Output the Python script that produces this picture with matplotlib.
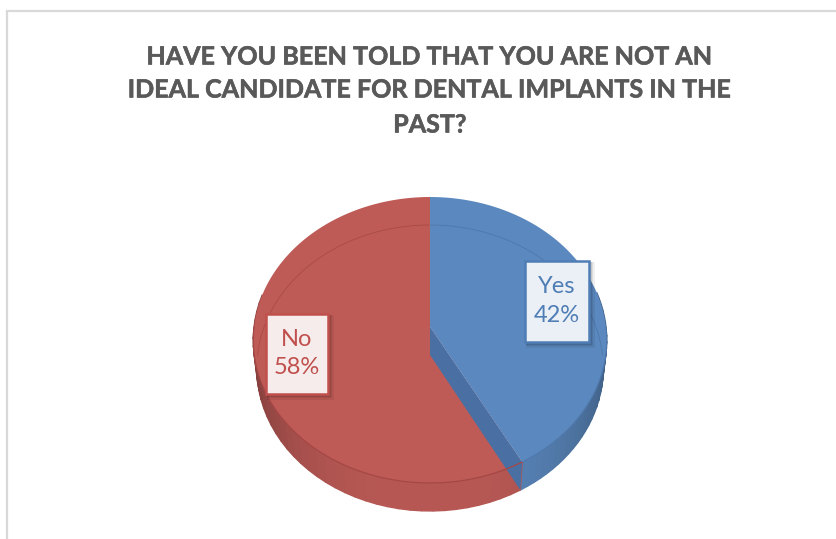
import numpy as np
import matplotlib
matplotlib.use('Agg')
import matplotlib.pyplot as plt
import matplotlib.patheffects as pe
from matplotlib.patches import Rectangle

############### Data ###############
categories = ['Yes', 'No']
values = [42, 58]
title_lines = ['HAVE YOU BEEN TOLD THAT YOU ARE NOT AN',
               'IDEAL CANDIDATE FOR DENTAL IMPLANTS IN THE',
               'PAST?']

############### Style ###############
top_colors = ['#5B88BE', '#BE5B57']
line_colors = ['#4F7DB5', '#C0504D']
box_colors = ['#EBF0F6', '#F6ECEB']
box_pos = [(524.5, 260.5, 64, 81), (265.5, 313.5, 62, 80)]
title_y = [57, 90, 125]

CX, APEX_Y = 430, 327    # where the top surface centre lands
A, B, K = 176, 141.8, 0.0909    # tilted disc projection
DEPTH = 28    # height of the pie wall
BOTTOM_SCALE = 0.98


def project(theta, drop=0):
    # theta is clockwise from 12 o'clock, drop moves it to the bottom face
    x = np.sin(theta)
    y = np.cos(theta)
    s = BOTTOM_SCALE if drop else 1
    return CX + s * A * x / (1 + K * y), APEX_Y + drop - B * y / (1 + K * y)


def shade(hex_color, f):
    rgb = np.array(matplotlib.colors.to_rgb(hex_color))
    return tuple(np.clip(rgb * f, 0, 1))


fig = plt.figure(figsize=(8.36, 5.39), dpi=100)
ax = fig.add_axes([0, 0, 1, 1])
ax.set_xlim(0, 836)
ax.set_ylim(539, 0)
ax.axis('off')

# frame of the chart area
ax.plot([6.8, 6.8, 836], [539, 11, 11], color='#D9D9D9', lw=1.6, solid_joinstyle='miter')

edges = np.cumsum([0] + values) / sum(values) * 2 * np.pi

# outer wall, cut in small pieces to get the shading
for i in range(len(values)):
    th = np.linspace(edges[i], edges[i + 1], 61)
    for a, b in zip(th[:-1], th[1:]):
        mid = (a + b) / 2
        if np.cos(mid) > 0.25:
            continue
        # darkest near the left / right rims
        f = 0.96 - 0.26 * abs(np.sin(mid)) ** 3
        col = shade(top_colors[i], f)
        tx, ty = project(np.array([a, b]))
        bx, by = project(np.array([b, a]), DEPTH)
        ax.fill(np.r_[tx, bx], np.r_[ty, by], fc=col, ec=col, lw=1.0)

# red top face first, the blue cut wall sits over it
th = np.linspace(edges[1], edges[2], 200)
x, y = project(th)
ax.fill(np.r_[CX, x], np.r_[APEX_Y, y], color=top_colors[1], lw=0)
ax.fill([CX - 10, CX, CX, CX - 10], [198, 197, 327, 327], color='#C25A55', lw=0, alpha=0.6)

# blue cut face
cx_top, cy_top = project(edges[1])
cx_bot, cy_bot = project(edges[1], DEPTH)
ax.fill([CX, cx_top, cx_bot, CX], [APEX_Y, cy_top, cy_bot, APEX_Y + DEPTH], color='#4A6FA3', lw=0)

th = np.linspace(edges[0], edges[1], 200)
x, y = project(th)
ax.fill(np.r_[CX, x], np.r_[APEX_Y, y], color=top_colors[0], lw=0)

# faint rim lines: back of the bottom face and front of the top face
th = np.linspace(-np.pi / 2, np.pi / 2, 200)
x, y = project(th, DEPTH)
split = x >= CX
ax.plot(x[split], y[split], color='#4F78AC', lw=0.6)
ax.plot(x[~split], y[~split], color='#A94A47', lw=0.6)
th = np.linspace(np.pi / 2, 3 * np.pi / 2, 300)
x, y = project(th)
blue = th < edges[1]
ax.plot(x[blue], y[blue], color='#4F78AC', lw=0.8)
ax.plot(x[~blue], y[~blue], color='#A54845', lw=0.9)

# data labels
for i, cat in enumerate(categories):
    bx, by, bw, bh = box_pos[i]
    for off, al in [(5, 0.06), (3.5, 0.08), (2, 0.1)]:
        ax.add_patch(Rectangle((bx + 1, by + 1), bw + off, bh + off, fc='black', ec='none',
                               alpha=al, zorder=3))
    ax.add_patch(Rectangle((bx, by), bw, bh, fc=box_colors[i], ec=line_colors[i], lw=1.8, zorder=3))
    ax.text(bx + bw / 2, by + bh / 2, '%s\n%d%%' % (cat, values[i]), ha='center', va='center',
            color=line_colors[i], fontsize=17, family='Lato', linespacing=1.45, zorder=4)

for line, ty in zip(title_lines, title_y):
    ax.text(430, ty, line, ha='center', va='center', color='#595959', fontsize=18.05,
            fontweight='bold', family='Lato',
            path_effects=[pe.withStroke(linewidth=0.4, foreground='#595959')])

fig.savefig('out.png', dpi=100)
